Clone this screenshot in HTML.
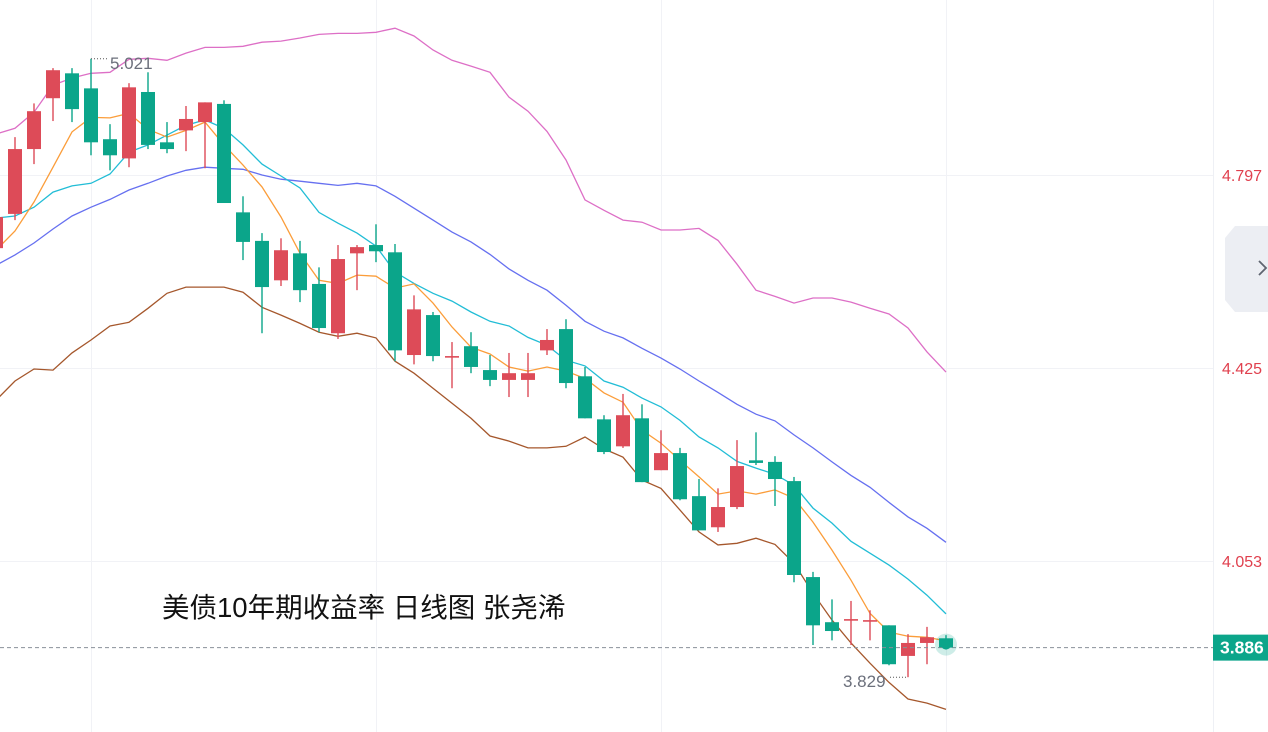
<!DOCTYPE html>
<html><head><meta charset="utf-8"><style>
html,body{margin:0;padding:0;background:#fff;width:1268px;height:732px;overflow:hidden}
svg{display:block}
text{font-family:"Liberation Sans","Noto Sans CJK SC",sans-serif}
</style></head><body>
<svg id="chart" width="1268" height="732" xmlns="http://www.w3.org/2000/svg">
<g id="grid"></g>
<g id="lines"></g>
<g id="candles"></g>
<line x1="1213.5" y1="0" x2="1213.5" y2="732" stroke="#eef0f5" stroke-width="1"/>
<g id="axis"></g>
<text x="162" y="617" font-size="27.5" fill="#111">美债10年期收益率 日线图 张尧浠</text>
<g><path d="M1268 226 L1235 226 L1225 238 L1225 300 L1235 312 L1268 312 Z" fill="#eceef3"/><path d="M1259 261 L1266 268 L1259 275" fill="none" stroke="#5f6470" stroke-width="1.8"/></g>
</svg>
<script>
const xStart = -4, step = 19;
const opens  = [4.656,4.722,4.847,4.945,4.993,4.964,4.866,4.829,4.957,4.860,4.883,4.899,4.934,4.725,4.670,4.594,4.646,4.587,4.492,4.646,4.662,4.648,4.450,4.527,4.446,4.467,4.421,4.402,4.402,4.459,4.500,4.409,4.326,4.274,4.328,4.228,4.261,4.178,4.118,4.157,4.247,4.244,4.207,4.022,3.935,3.939,3.937,3.929,3.870,3.895,3.904];
const highs  = [4.722,4.870,4.935,5.003,5.003,5.021,4.895,4.974,4.995,4.899,4.930,4.937,4.941,4.756,4.685,4.675,4.670,4.619,4.662,4.662,4.702,4.664,4.565,4.533,4.475,4.494,4.450,4.454,4.454,4.500,4.519,4.427,4.334,4.375,4.355,4.305,4.271,4.211,4.193,4.286,4.301,4.255,4.215,4.032,3.979,3.976,3.958,3.929,3.912,3.926,3.910];
const lows   = [4.648,4.710,4.818,4.901,4.899,4.835,4.806,4.812,4.847,4.839,4.843,4.810,4.743,4.633,4.492,4.583,4.552,4.494,4.481,4.575,4.629,4.438,4.432,4.438,4.386,4.415,4.390,4.369,4.369,4.450,4.386,4.328,4.259,4.271,4.205,4.228,4.170,4.112,4.109,4.153,4.238,4.159,4.012,3.891,3.900,3.891,3.900,3.852,3.829,3.854,3.887];
const closes = [4.716,4.847,4.920,4.999,4.924,4.860,4.835,4.966,4.855,4.847,4.905,4.937,4.743,4.668,4.581,4.652,4.575,4.502,4.635,4.658,4.650,4.459,4.538,4.448,4.448,4.427,4.402,4.415,4.415,4.479,4.396,4.328,4.263,4.334,4.205,4.261,4.172,4.112,4.157,4.236,4.242,4.211,4.026,3.929,3.918,3.941,3.939,3.854,3.895,3.906,3.886];
const ma5    = [4.652,4.689,4.745,4.812,4.880,4.908,4.907,4.916,4.885,4.870,4.883,4.899,4.855,4.816,4.774,4.716,4.646,4.594,4.588,4.604,4.602,4.579,4.587,4.550,4.504,4.465,4.452,4.427,4.419,4.427,4.419,4.405,4.377,4.359,4.305,4.280,4.247,4.215,4.182,4.188,4.182,4.190,4.174,4.128,4.074,4.016,3.952,3.916,3.908,3.906,3.899];
const ma10   = [4.714,4.718,4.735,4.764,4.776,4.781,4.799,4.841,4.855,4.874,4.893,4.903,4.887,4.855,4.818,4.795,4.772,4.725,4.704,4.685,4.660,4.610,4.588,4.569,4.554,4.533,4.515,4.506,4.484,4.469,4.440,4.429,4.400,4.388,4.367,4.350,4.324,4.292,4.271,4.245,4.232,4.220,4.199,4.155,4.126,4.091,4.068,4.045,4.018,3.987,3.951];
const mid    = [4.623,4.643,4.666,4.693,4.718,4.735,4.750,4.768,4.781,4.795,4.806,4.812,4.810,4.808,4.797,4.789,4.785,4.781,4.777,4.781,4.776,4.756,4.733,4.710,4.687,4.668,4.644,4.616,4.594,4.575,4.546,4.515,4.496,4.483,4.463,4.444,4.423,4.400,4.378,4.355,4.336,4.323,4.296,4.271,4.244,4.218,4.195,4.166,4.138,4.116,4.089];
const upper  = [4.876,4.887,4.918,4.970,4.984,4.993,4.995,5.020,5.022,5.018,5.032,5.043,5.043,5.045,5.053,5.055,5.061,5.068,5.070,5.070,5.072,5.080,5.065,5.038,5.018,5.007,4.995,4.947,4.920,4.881,4.826,4.749,4.729,4.710,4.706,4.691,4.691,4.694,4.671,4.625,4.575,4.563,4.550,4.560,4.560,4.552,4.540,4.529,4.502,4.456,4.417];
const lower  = [4.363,4.400,4.423,4.421,4.454,4.479,4.506,4.513,4.540,4.569,4.581,4.581,4.581,4.571,4.542,4.527,4.511,4.494,4.486,4.492,4.483,4.438,4.415,4.386,4.357,4.328,4.294,4.284,4.271,4.271,4.274,4.292,4.269,4.253,4.209,4.193,4.151,4.109,4.084,4.087,4.097,4.085,4.049,3.991,3.939,3.895,3.856,3.819,3.787,3.779,3.767];
const yTicks = [4.797,4.425,4.053];
const lastPrice = 3.886;
const NS='http://www.w3.org/2000/svg';
function yS(p){return 175+(4.797-p)*518.8;}
function xS(i){return xStart+i*step;}
function mk(tag,attrs,parent){const e=document.createElementNS(NS,tag);for(const k in attrs)e.setAttribute(k,attrs[k]);parent.appendChild(e);return e;}
const grid=document.getElementById('grid');
[91,376,661,946].forEach(x=>{const l=mk('line',{x1:x+.5,y1:0,x2:x+.5,y2:732,stroke:'#f1f2f6'},grid);

});
const axis=document.getElementById('axis');
yTicks.forEach(t=>{const y=yS(t);
const l=mk('line',{x1:0,y1:Math.round(y)+.5,x2:1213,y2:Math.round(y)+.5,stroke:'#f1f2f6'},grid);


const tx=mk('text',{x:1222,y:y+6,'font-size':16,fill:'#e0404e'},axis);tx.textContent=t.toFixed(3);

});
const lines=document.getElementById('lines');
[[upper,'#dd6fc6','upper-band'],[lower,'#a5572c','lower-band'],[mid,'#6670f0','middle-band'],[ma10,'#22bdd6','ma10-line'],[ma5,'#fb9d3a','ma5-line']].forEach(([arr,c,n])=>{
const pts=arr.map((v,i)=>xS(i)+','+yS(v).toFixed(1)).join(' ');
const pl=mk('polyline',{points:pts,fill:'none',stroke:c,'stroke-width':1.3},lines);

});
const cg=document.getElementById('candles');
opens.forEach((o,i)=>{const c=closes[i];const up=c>=o;const col=up?'#dd4b58':'#0ba58a';const x=xS(i);
const g=mk('g',{},cg);


mk('line',{x1:x,y1:yS(highs[i]),x2:x,y2:yS(lows[i]),stroke:col,'stroke-width':1.4},g);
const t=yS(Math.max(o,c)),b=yS(Math.min(o,c));
mk('rect',{x:x-7,y:t,width:14,height:Math.max(b-t,1.6),fill:col},g);});
const hi=5.021, lo=3.829;
const mg=mk('g',{},cg);


mk('line',{x1:xS(5),y1:yS(hi),x2:xS(5)+16,y2:yS(hi),stroke:'#555','stroke-dasharray':'1,2'},mg);
let t1=mk('text',{x:xS(5)+19,y:yS(hi)+10,'font-size':17,fill:'#6b6f7b'},mg);t1.textContent=hi.toFixed(3);
mk('line',{x1:xS(48)-18,y1:yS(lo),x2:xS(48),y2:yS(lo),stroke:'#555','stroke-dasharray':'1,2'},mg);
let t2=mk('text',{x:xS(48)-65,y:yS(lo)+10,'font-size':17,fill:'#6b6f7b'},mg);t2.textContent=lo.toFixed(3);
const ly=yS(lastPrice);
const dl=mk('line',{x1:0,y1:ly,x2:1213,y2:ly,stroke:'#8a9099','stroke-dasharray':'4,3','stroke-width':1},axis);


const glow=mk('circle',{cx:xS(50),cy:ly-3,r:11,fill:'#0ba58a',opacity:.2},axis);


const dot=mk('circle',{cx:xS(50),cy:ly-3,r:5,fill:'#0ba58a'},axis);


const box=mk('rect',{x:1213,y:ly-13,width:55,height:26,fill:'#0ba58a'},axis);


const lt=mk('text',{x:1220,y:ly+6,'font-size':17.5,fill:'#fff','font-weight':'bold'},axis);lt.textContent=lastPrice.toFixed(3);


</script>
</body></html>
